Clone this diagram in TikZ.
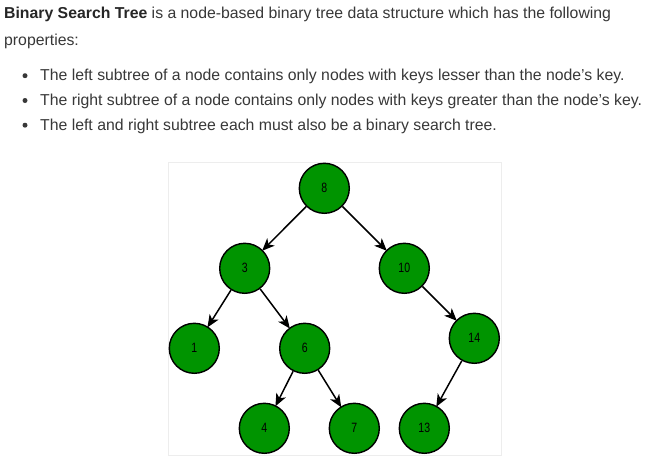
\documentclass[tikz,border=0pt]{standalone}
\usepackage{fontspec}
\setmainfont{Liberation Sans}
\usetikzlibrary{arrows.meta}
\definecolor{bstgreen}{RGB}{0,148,0}
\definecolor{txtgray}{RGB}{56,56,56}
\newcommand{\nlab}[1]{\scalebox{0.78}[1]{#1}}
\begin{document}
\begin{tikzpicture}[x=1pt,y=-1pt,
  bst/.style={circle,draw=black,line width=1.4pt,fill=bstgreen,minimum size=50pt,inner sep=0pt,
    font=\fontsize{13.5}{15}\selectfont},
  conn/.style={draw=black,line width=1.5pt,-{Stealth[length=12.5pt,width=10.5pt,inset=3.5pt]},shorten >=-1pt},
  para/.style={anchor=base west,inner sep=0pt,text=txtgray,font=\fontsize{15.8}{18}\selectfont},
  bul/.style={circle,fill=txtgray,inner sep=0pt,minimum size=5pt}]
\useasboundingbox (0,0) rectangle (651,461);
\fill[white] (0,0) rectangle (651,461);
% text
\node[para] (l1) at (4,18.5) {\textbf{\color{black!85}Binary Search Tree} is a node-based binary tree data structure which has the following};
\node[para] (l2) at (4,45) {properties:};
\node[bul] (b1) at (25,75.7) {};
\node[bul] (b2) at (25,100.5) {};
\node[bul] (b3) at (25,125.2) {};
\node[para] (t1) at (40,80.7) {The left subtree of a node contains only nodes with keys lesser than the node’s key.};
\node[para] (t2) at (40,105.5) {The right subtree of a node contains only nodes with keys greater than the node’s key.};
\node[para] (t3) at (40,130.2) {The left and right subtree each must also be a binary search tree.};
% panel
\draw[black!7,line width=1pt] (168,162) rectangle (501,455);
% tree
\node[bst] (n8) at (324.3,188.3) {\nlab{8}};
\node[bst] (n3) at (244.7,268.3) {\nlab{3}};
\node[bst] (n10) at (404.3,268.3) {\nlab{10}};
\node[bst] (n1) at (194.3,348.3) {\nlab{1}};
\node[bst] (n6) at (304.7,348.3) {\nlab{6}};
\node[bst] (n14) at (474.3,338.3) {\nlab{14}};
\node[bst] (n4) at (264.3,428.3) {\nlab{4}};
\node[bst] (n7) at (354.3,428.3) {\nlab{7}};
\node[bst] (n13) at (424.3,428.3) {\nlab{13}};
\draw[conn] (n8) -- (n3);
\draw[conn] (n8) -- (n10);
\draw[conn] (n3) -- (n1);
\draw[conn] (n3) -- (n6);
\draw[conn] (n10) -- (n14);
\draw[conn] (n6) -- (n4);
\draw[conn] (n6) -- (n7);
\draw[conn] (n14) -- (n13);
\end{tikzpicture}
\end{document}
